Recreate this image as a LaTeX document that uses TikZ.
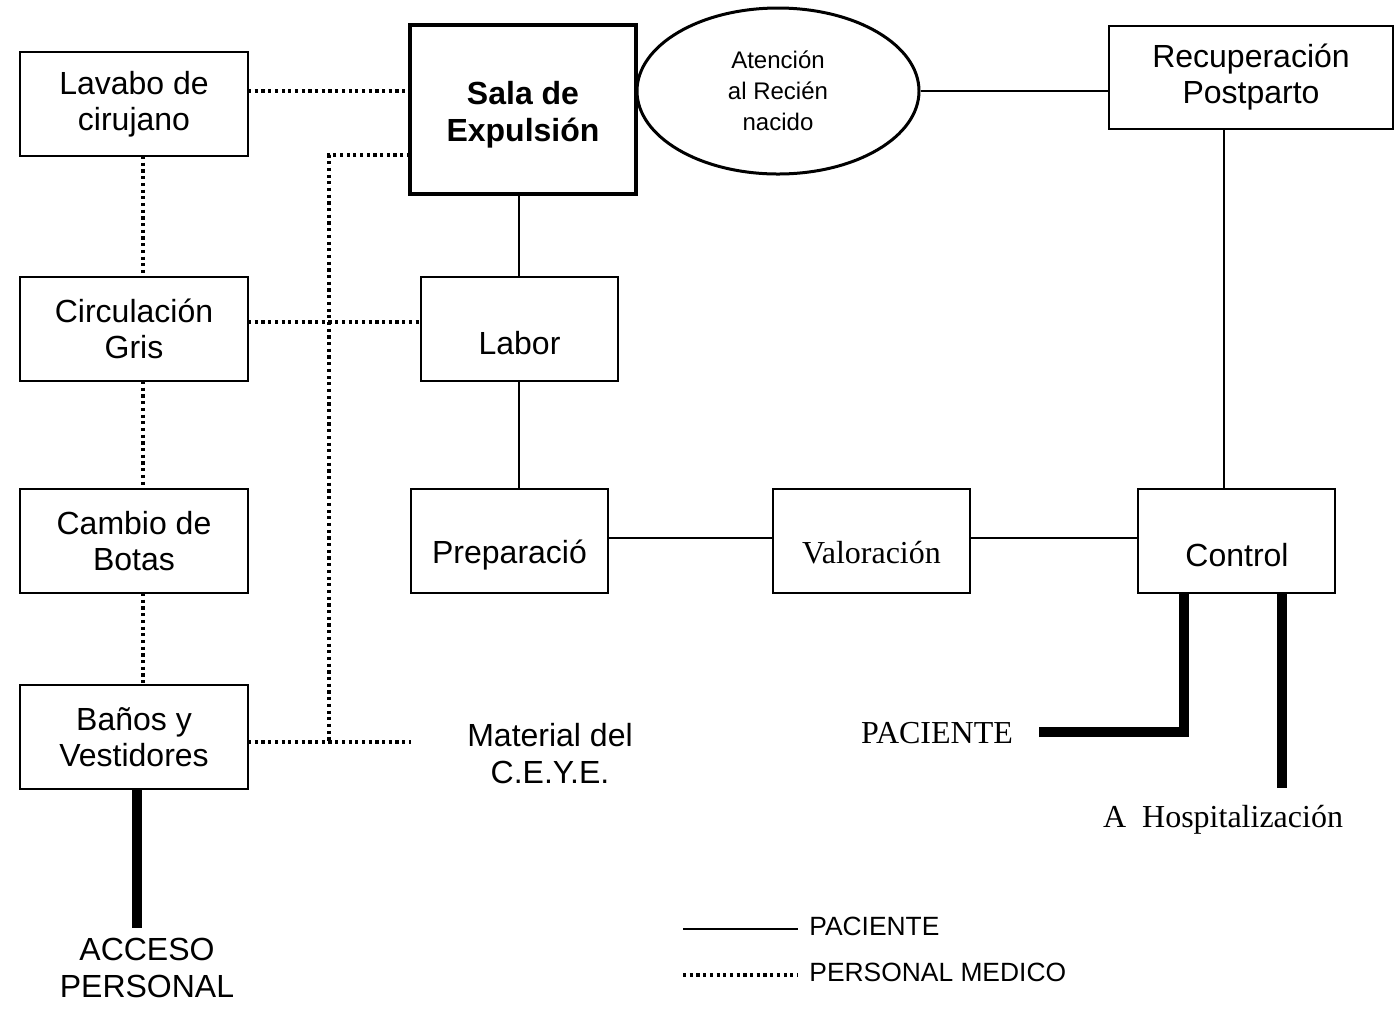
\documentclass[tikz,border=0pt]{standalone}
\usepackage{fontspec}
\setmainfont{Liberation Sans}
\newfontfamily\timesfont{Liberation Serif}
\usetikzlibrary{shapes.geometric}
\begin{document}
\begin{tikzpicture}[x=0.5pt,y=-0.5pt,
  box/.style={draw,line width=1pt,rectangle,inner sep=0pt,outer sep=0pt,align=center,font=\fontsize{16}{18}\selectfont},
  sidebox/.style={box,minimum width=114pt,minimum height=52pt},
  midbox/.style={box,minimum width=98.5pt,minimum height=52pt},
  txt/.style={inner sep=0pt,align=center,font=\fontsize{16}{18.5}\selectfont},
  serif/.style={inner sep=0pt,align=center,font=\timesfont\fontsize{16}{18}\selectfont},
  leg/.style={inner sep=0pt,anchor=west,font=\fontsize{13.2}{15}\selectfont},
  pl/.style={line width=0.9pt},
  pm/.style={line width=1.7pt,dash pattern=on 1.6pt off 1.75pt},
  heavy/.style={line width=5pt,line join=miter}]
\useasboundingbox (0,0) rectangle (1395,1009);

% left column
\node[sidebox] (lav) at (134,104) {Lavabo de\\cirujano};
\node[sidebox] (circ) at (134,329) {Circulación\\Gris};
\node[sidebox] (camb) at (134,541) {Cambio de\\Botas};
\node[sidebox] (ban) at (134,737) {Baños y\\Vestidores};

% central boxes
\node[box,line width=1.75pt,minimum width=113pt,minimum height=84.5pt] (sala) at (523,109.5) {};
\node[txt,font=\bfseries\fontsize{16}{18.5}\selectfont] (salat) at (523,114.5) {Sala de\\Expulsión};
\node[draw,ellipse,line width=1.5pt,minimum width=141pt,minimum height=83pt,inner sep=0pt,align=center,font=\fontsize{12}{15.5}\selectfont] (rn) at (778,91) {Atención\\al Recién\\nacido};
\node[box,minimum width=142pt,minimum height=51.5pt] (rec) at (1251,77.5) {Recuperación\\Postparto};

\node[midbox] (lab) at (519.5,329) {};
\node[txt] (labt) at (519.5,343) {Labor};
\node[midbox] (prep) at (509.5,541) {};
\node[txt] (prept) at (509.5,555) {Preparació};
\node[midbox] (val) at (871.5,541) {};
\node[serif] (valt) at (871.5,553) {Valoración};
\node[midbox] (ctl) at (1236.5,541) {};
\node[txt] (ctlt) at (1237,555) {Control};

% free texts
\node[txt] (ceye) at (550,754) {Material del\\C.E.Y.E.};
\node[txt] (acc) at (147,968) {ACCESO\\PERSONAL};
\node[serif] (pac) at (937,733) {PACIENTE};
\node[serif] (hosp) at (1223,820) {A\ \ Hospitalización};

% coordinates for free ends
\coordinate (jn) at (329,742);
\coordinate (ceyeend) at (411,742);
\coordinate (accend) at (137,928);
\coordinate (pacc) at (1184,732);
\coordinate (pacend) at (1039,732);
\coordinate (hospend) at (1282,788);

% personal medico (dotted)
\draw[pm] (lav.east |- 0,91) -- (sala.west |- 0,91);
\draw[pm] (sala.west |- 0,155) -| (jn);
\draw[pm] (ban.east |- 0,742) -- (ceyeend);
\draw[pm] (circ.east |- 0,322) -- (lab.west |- 0,322);
\draw[pm] (lav.south -| 143,0) -- (circ.north -| 143,0);
\draw[pm] (circ.south -| 143,0) -- (camb.north -| 143,0);
\draw[pm] (camb.south -| 143,0) -- (ban.north -| 143,0);

% paciente (solid)
\draw[pl] (sala.south -| 519,0) -- (lab.north -| 519,0);
\draw[pl] (lab.south -| 519,0) -- (prep.north -| 519,0);
\draw[pl] (prep.east |- 0,538) -- (val.west |- 0,538);
\draw[pl] (val.east |- 0,538) -- (ctl.west |- 0,538);
\draw[pl] (rn.east) -- (rec.west |- rn.east);
\draw[pl] (rec.south -| 1224,0) -- (ctl.north -| 1224,0);

% heavy access lines
\draw[heavy] (ban.south -| 137,0) -- (accend);
\draw[heavy] (ctl.south -| 1184,0) -- (pacc) -- (pacend);
\draw[heavy] (ctl.south -| 1282,0) -- (hospend);

% legend
\coordinate (l1a) at (683,929);
\coordinate (l1b) at (798,929);
\coordinate (l2a) at (683,975);
\coordinate (l2b) at (798,975);
\draw[line width=1pt] (l1a) -- (l1b);
\draw[pm] (l2a) -- (l2b);
\node[leg] (l1t) at (809,926) {PACIENTE};
\node[leg] (l2t) at (809,972) {PERSONAL MEDICO};
\end{tikzpicture}
\end{document}
